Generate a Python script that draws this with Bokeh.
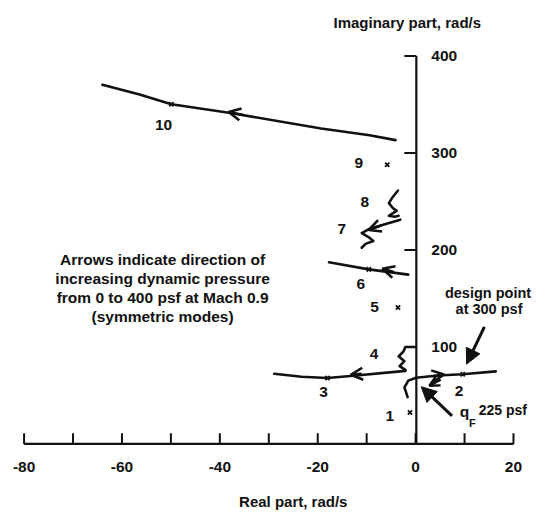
from bokeh.plotting import figure
from bokeh.models import Range1d, Arrow, OpenHead, NormalHead, ColumnDataSource
from bokeh.core.properties import value
from bokeh.embed import file_html
from bokeh.resources import INLINE

# ---------------- data ----------------
x_ticks = [-80, -70, -60, -50, -40, -30, -20, -10, 0, 10, 20]
x_label_vals = [-80, -60, -40, -20, 0, 20]
x_tick_labels = ["-80", "-60", "-40", "-20", "0", "20"]
y_ticks = [100, 200, 300, 400]
y_tick_labels = ["100", "200", "300", "400"]

# root-locus branches (real part, imaginary part), rad/s
mode10_re = [-64.0, -56.4, -49.9, -37.8, -19.3, -9.4, -4.1]
mode10_im = [370.3, 360.3, 350.3, 341.3, 325.3, 318.3, 313.3]
mode8_re = [-3.6, -4.86, -5.46, -4.66, -3.87, -4.86, -5.46, -4.27, -3.47]
mode8_im = [261.3, 253.3, 248.3, 243.3, 240.3, 237.3, 235.3, 234.3, 235.3]
mode7_re = [-3.13, -6.45, -9.62, -11.01, -9.62, -8.63, -10.22, -11.01]
mode7_im = [231.3, 226.3, 221.3, 217.3, 213.3, 209.3, 206.3, 202.3]
mode6_re = [-17.7, -9.56, -1.49]
mode6_im = [187.3, 180.0, 174.6]
mode4_re = [-0.1, -2.08, -2.48, -3.47, -2.28, -3.27, -2.08]
mode4_im = [100.0, 100.0, 95.3, 90.3, 85.3, 80.3, 76.3]
mode3_re = [-28.9, -23.3, -18.0, -12.1, -2.08]
mode3_im = [72.3, 69.3, 68.0, 70.6, 75.3]
mode12_re = [-1.63, -2.28, -1.49, 0.1, 3.08, 5.46, 9.62, 16.37]
mode12_im = [48.3, 58.3, 65.3, 68.3, 69.8, 70.8, 71.8, 74.8]

# open-loop roots (x marks)
root_re = [-1.15, 9.62, -18.0, -3.6, -9.56, -5.8, -49.9]
root_im = [32.3, 71.8, 68.0, 140.6, 180.0, 288.0, 350.3]

# mode numbers
mode_names = ["1", "2", "3", "4", "5", "6", "7", "8", "9", "10"]
mode_label_re = [-5.26, 8.9, -18.8, -8.5, -8.4, -11.2, -15.1, -10.4, -11.6, -51.5]
mode_label_im = [28.8, 54.8, 53.3, 92.3, 141.3, 164.8, 221.3, 249.3, 289.3, 329.3]

# direction arrows on the branches
dir_x0 = [-35.2, -4.46, -7.04, -11.0, 3.47]
dir_y0 = [339.3, 177.3, 225.3, 72.3, 69.8]
dir_x1 = [-38.2, -6.79, -9.56, -13.25, 5.79]
dir_y1 = [342.3, 180.6, 220.6, 71.3, 71.6]
# arrow from mode 2 towards the coalescence
back_x0, back_y0, back_x1, back_y1 = [5.12], [66.3], [2.82], [60.0]

# callout arrows: design point, flutter dynamic pressure q_F
call_x0 = [14.05, 7.44]
call_y0 = [120.6, 29.0]
call_x1 = [10.42, 1.15]
call_y1 = [82.3, 59.0]

note_lines = ["Arrows indicate direction of",
              "increasing dynamic pressure",
              "from 0 to 400 psf at Mach 0.9",
              "(symmetric modes)"]
note_re = [-51.7, -51.7, -51.7, -51.7]
note_im = [189.8, 170.3, 151.3, 131.3]

design_lines = ["design point", "at 300 psf"]
design_re = [14.8, 15.0]
design_im = [155.3, 139.3]

x_title = "Real part, rad/s"
y_title = "Imaginary part, rad/s"

# ---------------- figure ----------------
FONT = value("Liberation Sans")
INK = "#111111"

p = figure(width=535, height=511,
           x_range=Range1d(-84.82, 24.50), y_range=Range1d(-69.7, 457.3),
           output_backend="svg", toolbar_location=None,
           x_axis_location=None, y_axis_location=None,
           min_border=0, min_border_left=0, min_border_right=0,
           min_border_top=0, min_border_bottom=0)
p.outline_line_color = None
p.grid.visible = False
p.background_fill_color = "white"
p.border_fill_color = "white"

# axes drawn as glyphs (the imaginary axis sits at Re = 0 inside the plot)
p.segment(x0=[x_ticks[0]], y0=[0], x1=[x_ticks[-1]], y1=[0], line_color=INK, line_width=2.2)
p.segment(x0=[0.15], y0=[0], x1=[0.15], y1=[y_ticks[-1]], line_color=INK, line_width=2.2)
p.segment(x0=x_ticks, y0=[0] * len(x_ticks), x1=x_ticks, y1=[11] * len(x_ticks),
          line_color=INK, line_width=2)
p.segment(x0=[0.15] * len(y_ticks), y0=y_ticks, x1=[-2.3] * len(y_ticks), y1=y_ticks,
          line_color=INK, line_width=2)

p.text(x=x_label_vals, y=[-24.2] * len(x_label_vals), text=x_tick_labels,
       text_font=FONT, text_font_style="bold", text_font_size="15.5px",
       text_align="center", text_baseline="middle", text_color=INK)
p.text(x=[3.2] * len(y_ticks), y=y_ticks, text=y_tick_labels,
       text_font=FONT, text_font_style="bold", text_font_size="15.5px",
       text_align="left", text_baseline="middle", text_color=INK)
p.text(x=[-25.0], y=[-59.5], text=[x_title], text_font=FONT, text_font_style="bold",
       text_font_size="15px", text_align="center", text_baseline="middle", text_color=INK)
p.text(x=[-1.7], y=[434.3], text=[y_title], text_font=FONT, text_font_style="bold",
       text_font_size="15px", text_align="center", text_baseline="middle", text_color=INK)

# branches
for xs, ys in [(mode10_re, mode10_im), (mode8_re, mode8_im), (mode7_re, mode7_im),
               (mode6_re, mode6_im), (mode4_re, mode4_im), (mode3_re, mode3_im),
               (mode12_re, mode12_im)]:
    p.line(xs, ys, line_color=INK, line_width=2.6, line_join="round", line_cap="round")

p.scatter(root_re, root_im, marker="x", size=6, line_color=INK, line_width=1.8)

p.text(x=mode_label_re, y=mode_label_im, text=mode_names, text_font=FONT,
       text_font_style="bold", text_font_size="15.5px", text_align="center",
       text_baseline="middle", text_color=INK)

# direction arrows
dir_src = ColumnDataSource(dict(x0=dir_x0, y0=dir_y0, x1=dir_x1, y1=dir_y1))
p.add_layout(Arrow(end=OpenHead(size=12, line_width=2.6, line_color=INK),
                   x_start="x0", y_start="y0", x_end="x1", y_end="y1",
                   source=dir_src, line_width=2.6, line_color=INK))
back_src = ColumnDataSource(dict(x0=back_x0, y0=back_y0, x1=back_x1, y1=back_y1))
p.add_layout(Arrow(end=OpenHead(size=10, line_width=2.4, line_color=INK),
                   x_start="x0", y_start="y0", x_end="x1", y_end="y1",
                   source=back_src, line_width=2.4, line_color=INK))
call_src = ColumnDataSource(dict(x0=call_x0, y0=call_y0, x1=call_x1, y1=call_y1))
p.add_layout(Arrow(end=NormalHead(size=15, fill_color=INK, line_color=INK),
                   x_start="x0", y_start="y0", x_end="x1", y_end="y1",
                   source=call_src, line_width=3, line_color=INK))

# annotations
p.text(x=note_re, y=note_im, text=note_lines, text_font=FONT, text_font_style="bold",
       text_font_size="15.5px", text_align="center", text_baseline="middle", text_color=INK)
p.text(x=design_re, y=design_im, text=design_lines, text_font=FONT, text_font_style="bold",
       text_font_size="14.5px", text_align="center", text_baseline="middle", text_color=INK)
p.text(x=[10.0], y=[33.5], text=["q"], text_font=FONT, text_font_style="bold",
       text_font_size="15.5px", text_align="center", text_baseline="middle", text_color=INK)
p.text(x=[11.6], y=[21.5], text=["F"], text_font=FONT, text_font_style="bold",
       text_font_size="11px", text_align="center", text_baseline="middle", text_color=INK)
p.text(x=[12.9], y=[35.3], text=["225 psf"], text_font=FONT, text_font_style="bold",
       text_font_size="14px", text_align="left", text_baseline="middle", text_color=INK)

open("out.html", "w").write(file_html(p, INLINE))
